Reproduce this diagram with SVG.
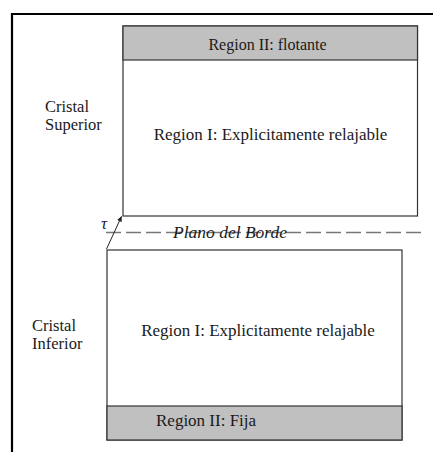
<svg xmlns="http://www.w3.org/2000/svg" width="433" height="452" viewBox="0 0 433 452">
<style>
.t{font-family:"Liberation Serif","Times New Roman",serif;fill:#1a1a1a;font-size:17px}
.box{fill:#fff;stroke:#333;stroke-width:1.2}
.gray{fill:#c0c0c0;stroke:#333;stroke-width:1.2}
.frame{stroke:#000;stroke-width:2.2;fill:none}
.dash{stroke:#777;stroke-width:1.3;stroke-dasharray:15 5;fill:none}
</style>
<defs>
<marker id="ah" markerWidth="6" markerHeight="6" refX="5" refY="3" orient="auto" markerUnits="userSpaceOnUse">
<path d="M0,0.5 L5.5,3 L0,5.5 z" fill="#222"/>
</marker>
</defs>
<rect width="433" height="452" fill="#fff"/>
<g id="frame">
<path class="frame" d="M12,452 V14 H433"/>
</g>
<g id="cristal-superior">
<rect class="box" x="123" y="26" width="294.5" height="190"/>
<rect class="gray" x="123" y="26" width="294.5" height="34"/>
<text class="t" x="267.5" y="50" text-anchor="middle" style="font-size:16px">Region II: flotante</text>
<text class="t" x="270.5" y="140" text-anchor="middle">Region I: Explicitamente relajable</text>
<text class="t" x="45" y="111.5" style="font-size:16.5px">Cristal</text>
<text class="t" x="45" y="129.5" style="font-size:16.5px">Superior</text>
</g>
<g id="cristal-inferior">
<rect class="box" x="107" y="250" width="295" height="190"/>
<rect class="gray" x="107" y="406" width="295" height="34"/>
<text class="t" x="258" y="336" text-anchor="middle">Region I: Explicitamente relajable</text>
<text class="t" x="156" y="426">Region II: Fija</text>
<text class="t" x="32" y="331" style="font-size:16.5px">Cristal</text>
<text class="t" x="32" y="349" style="font-size:16.5px">Inferior</text>
</g>
<g id="connectors">
<line class="dash" x1="106" y1="232.5" x2="426" y2="232.5"/>
<line x1="106.5" y1="249" x2="121.5" y2="216.5" stroke="#222" stroke-width="1" marker-end="url(#ah)"/>
</g>
<g id="plano-del-borde">
<text class="t" x="230" y="237.5" text-anchor="middle" style="font-style:italic;font-size:17.5px">Plano del Borde</text>
<text class="t" x="101" y="229" style="font-style:italic;font-size:17px;fill:#1a1a40">τ</text>
</g>
</svg>
